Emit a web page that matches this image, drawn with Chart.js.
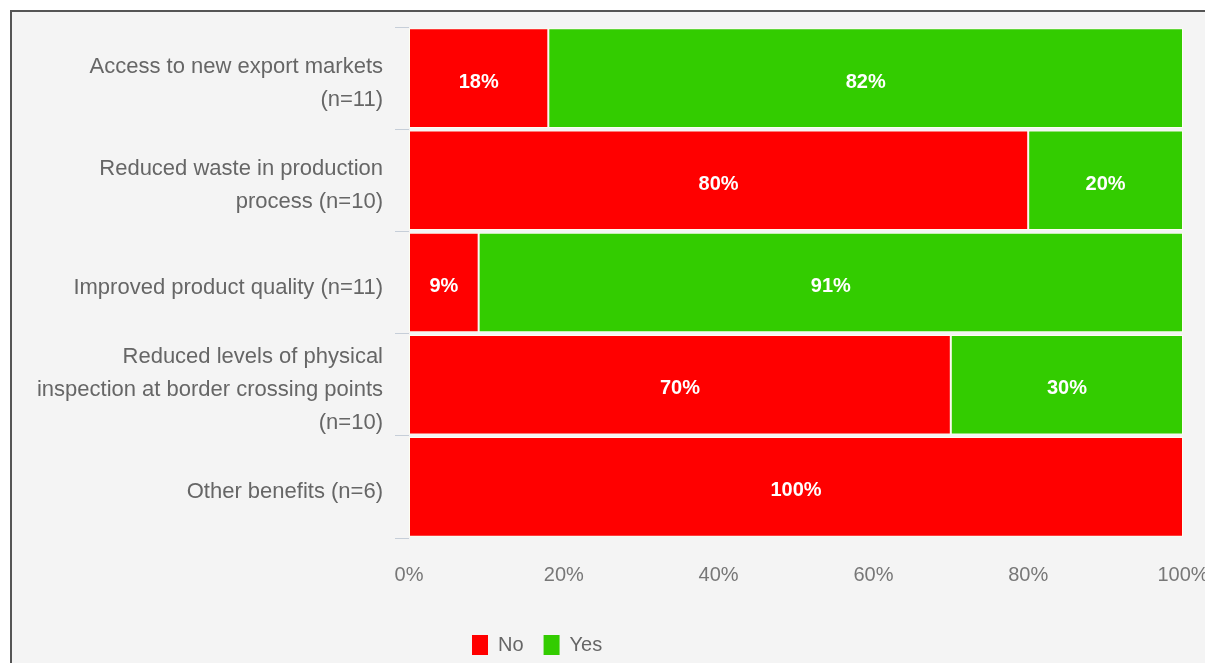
<!DOCTYPE html>
<html>
<head>
<meta charset="utf-8">
<script src="https://cdn.jsdelivr.net/npm/chart.js@4/dist/chart.umd.min.js"></script>
<style>
  html, body { margin: 0; padding: 0; background: #ffffff; }
  #wrap { position: relative; width: 1205px; height: 663px; overflow: hidden; }
  #frame {
    position: absolute; left: 10px; top: 10px; width: 1210px; height: 670px;
    background: #f4f4f4;
    border-top: 2px solid #555555;
    border-left: 2px solid #555555;
  }
  #chart { position: absolute; left: 0; top: 0; }
</style>
</head>
<body>
<div id="wrap">
  <div id="frame"></div>
  <canvas id="chart" width="1205" height="663"></canvas>
</div>
<script>
// Benefit categories (multi-line labels) and the share of answers per category
const categories = [
  ["Access to new export markets", "(n=11)"],
  ["Reduced waste in production", "process (n=10)"],
  "Improved product quality (n=11)",
  ["Reduced levels of physical", "inspection at border crossing points", "(n=10)"],
  "Other benefits (n=6)"
];
const noValues  = [18, 80, 9, 70, 100];
const yesValues = [82, 20, 91, 30, 0];
const seriesNames = ["No", "Yes"];
const percentTicks = [0, 20, 40, 60, 80, 100];

const RED = "#ff0000";
const GREEN = "#33cc00";

Chart.defaults.font.family = '"Liberation Sans", Arial, sans-serif';

// Writes the percentage in the middle of every non-empty segment
const segmentLabels = {
  id: "segmentLabels",
  afterDatasetsDraw(chart) {
    const ctx = chart.ctx;
    ctx.save();
    ctx.fillStyle = "#ffffff";
    ctx.font = 'bold 20px "Liberation Sans", Arial, sans-serif';
    ctx.textAlign = "center";
    ctx.textBaseline = "middle";
    chart.data.datasets.forEach((ds, di) => {
      const meta = chart.getDatasetMeta(di);
      meta.data.forEach((el, i) => {
        const v = ds.data[i];
        if (!v) return;
        const p = el.getCenterPoint();
        ctx.fillText(v + "%", p.x, p.y + 4);
      });
    });
    ctx.restore();
  }
};

// Places the legend row below the left part of the plot
const legendOffset = {
  id: "legendOffset",
  afterLayout(chart) {
    if (chart.legend) {
      const w = chart.legend.width;
      chart.legend.left = 452;
      chart.legend.right = 452 + w;
    }
  }
};

new Chart(document.getElementById("chart"), {
  type: "bar",
  data: {
    labels: categories,
    datasets: [
      { label: seriesNames[0], data: noValues, backgroundColor: RED,
        borderColor: "rgba(255,255,240,0.85)", borderWidth: 1, borderSkipped: false },
      { label: seriesNames[1], data: yesValues, backgroundColor: GREEN,
        borderColor: "rgba(255,255,240,0.85)", borderWidth: 1, borderSkipped: false }
    ]
  },
  options: {
    indexAxis: "y",
    responsive: false,
    animation: false,
    devicePixelRatio: 1,
    datasets: { bar: { barPercentage: 0.975, categoryPercentage: 1.0 } },
    layout: { padding: { left: 0, right: 22, top: 27, bottom: -2 } },
    scales: {
      x: {
        stacked: true,
        min: 0,
        max: 100,
        afterBuildTicks(scale) {
          scale.ticks = percentTicks.map(v => ({ value: v }));
        },
        ticks: {
          callback: v => v + "%",
          color: "#777777",
          font: { size: 20 },
          padding: 17,
          maxRotation: 0
        },
        grid: { display: false },
        border: { display: false },
        afterFit(scale) {
          scale.paddingLeft = 0;
          scale.paddingRight = 0;
          scale.height = 77;
        }
      },
      y: {
        stacked: true,
        ticks: {
          color: "#666666",
          font: { size: 22, lineHeight: 1.5 },
          padding: 12,
          labelOffset: 5
        },
        grid: {
          drawOnChartArea: false,
          drawTicks: true,
          tickLength: 14,
          color: "#c6ced8",
          offset: true
        },
        border: { display: false },
        afterFit(scale) {
          scale.width = 409;
          scale.paddingTop = 0;
          scale.paddingBottom = 0;
        }
      }
    },
    plugins: {
      legend: {
        position: "bottom",
        align: "start",
        labels: {
          boxWidth: 16,
          boxHeight: 20,
          padding: 20,
          color: "#666666",
          font: { size: 20 },
          generateLabels(chart) {
            return Chart.defaults.plugins.legend.labels.generateLabels(chart)
              .map(l => Object.assign(l, { lineWidth: 0, strokeStyle: l.fillStyle }));
          }
        }
      },
      tooltip: { enabled: false },
      title: { display: false }
    }
  },
  plugins: [segmentLabels, legendOffset]
});
</script>
</body>
</html>
